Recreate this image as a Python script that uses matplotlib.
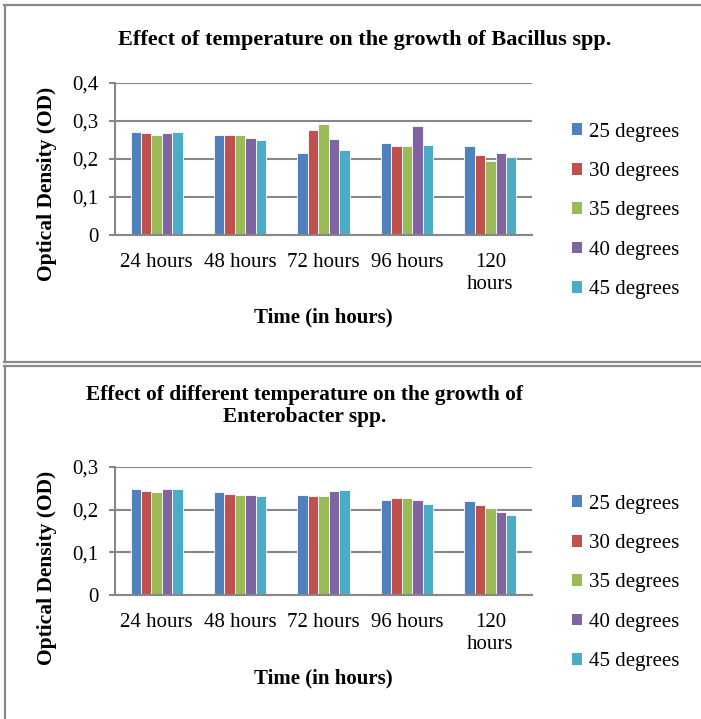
import matplotlib
matplotlib.use("Agg")
import matplotlib.pyplot as plt
from matplotlib.lines import Line2D
from matplotlib.patches import Patch
import numpy as np

categories = ["24 hours", "48 hours", "72 hours", "96 hours", "120\nhours"]
series_names = ["25 degrees", "30 degrees", "35 degrees", "40 degrees", "45 degrees"]
colors = ["#4F81BD", "#C0504D", "#9BBB59", "#8064A2", "#4BACC6"]

bacillus = {
    "25 degrees": [0.270, 0.263, 0.216, 0.242, 0.235],
    "30 degrees": [0.268, 0.263, 0.276, 0.235, 0.210],
    "35 degrees": [0.264, 0.262, 0.291, 0.235, 0.194],
    "40 degrees": [0.268, 0.256, 0.253, 0.287, 0.217],
    "45 degrees": [0.272, 0.249, 0.225, 0.237, 0.204],
}
enterobacter = {
    "25 degrees": [0.249, 0.240, 0.233, 0.222, 0.219],
    "30 degrees": [0.243, 0.237, 0.231, 0.228, 0.211],
    "35 degrees": [0.240, 0.233, 0.231, 0.228, 0.204],
    "40 degrees": [0.247, 0.233, 0.243, 0.222, 0.195],
    "45 degrees": [0.249, 0.231, 0.246, 0.214, 0.188],
}
top_yticks = [0, 0.1, 0.2, 0.3, 0.4]
bottom_yticks = [0, 0.1, 0.2, 0.3]

W, H = 701, 719
fig = plt.figure(figsize=(W / 100, H / 100), dpi=100)
plt.rcParams["font.family"] = ["Liberation Serif", "DejaVu Serif"]

FS = 15
GRID = "#878787"


def rect(l, r, top, bot):
    return [l / W, (H - bot) / H, (r - l) / W, (bot - top) / H]


def draw(ax, data, yticks):
    x = np.arange(len(categories))
    bw = 0.125
    for i, name in enumerate(series_names):
        ax.bar(x + (i - 2) * bw, data[name], bw, color=colors[i],
               edgecolor="white", linewidth=0.6, zorder=3)
    ax.set_xlim(-0.5, len(categories) - 0.5)
    ax.set_ylim(yticks[0], yticks[-1])
    ax.set_yticks(yticks)
    ax.set_yticklabels([("%g" % t).replace(".", ",") for t in yticks], fontsize=FS)
    ax.set_xticks(x)
    ax.set_xticklabels(categories, fontsize=FS, linespacing=1.2)
    ax.tick_params(axis="x", length=0, pad=13)
    ax.tick_params(axis="y", length=4, width=1.5, color=GRID, pad=8)
    ax.yaxis.grid(True, color=GRID, linewidth=1.5, zorder=0)
    ax.set_axisbelow(True)
    for s in ["top", "right"]:
        ax.spines[s].set_visible(False)
    for s in ["left", "bottom"]:
        ax.spines[s].set_color(GRID)
        ax.spines[s].set_linewidth(1.5)
        ax.spines[s].set_zorder(4)


ax1 = fig.add_axes(rect(115, 532, 83, 235))
draw(ax1, bacillus, top_yticks)
ax2 = fig.add_axes(rect(115, 532, 466.7, 595.3))
draw(ax2, enterobacter, bottom_yticks)

# titles and axis labels
fig.text(364.5 / W, 1 - 40 / H, "Effect of temperature on the growth of Bacillus spp.",
         ha="center", va="center", fontsize=16, fontweight="bold")
fig.text(304.5 / W, 1 - 406 / H,
         "Effect of different temperature on the growth of\nEnterobacter spp.",
         ha="center", va="center", fontsize=15.4, fontweight="bold", linespacing=1.15)
fig.text(323.5 / W, 1 - 317 / H, "Time (in hours)", ha="center", va="center",
         fontsize=FS, fontweight="bold")
fig.text(323.5 / W, 1 - 678 / H, "Time (in hours)", ha="center", va="center",
         fontsize=FS, fontweight="bold")
fig.text(47 / W, 1 - 184 / H, "Optical Density (OD)", ha="center", va="center",
         rotation=90, fontsize=15.5, fontweight="bold")
fig.text(47 / W, 1 - 568 / H, "Optical Density (OD)", ha="center", va="center",
         rotation=90, fontsize=15.5, fontweight="bold")

# legends
handles = [Patch(facecolor=c, edgecolor="none") for c in colors]
for center_y in (211, 583):
    fig.legend(handles, series_names, loc="center left",
               bbox_to_anchor=(572 / W, 1 - center_y / H),
               frameon=False, fontsize=FS, handlelength=0.5, handleheight=0.5,
               handletextpad=0.3, labelspacing=0.98, borderaxespad=0, borderpad=0)

# panel borders
BC = "#8a8a8a"
def hline(y, x0, x1):
    fig.add_artist(Line2D([x0 / W, x1 / W], [1 - y / H, 1 - y / H], color=BC, lw=1.6,
                          transform=fig.transFigure))
def vline(x, y0, y1):
    fig.add_artist(Line2D([x / W, x / W], [1 - y0 / H, 1 - y1 / H], color=BC, lw=1.6,
                          transform=fig.transFigure))

hline(5, 4, W)
hline(362, 4, W)
vline(4.5, 5, 362)
hline(366, 4, W)
vline(4.5, 366, H)

fig.savefig("out.png", dpi=100)
